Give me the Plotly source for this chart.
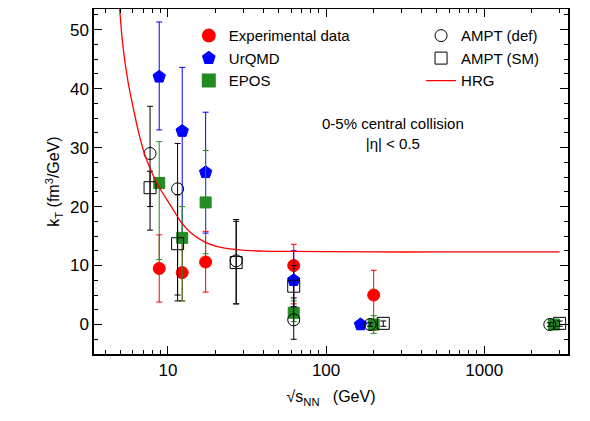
import plotly.graph_objects as go

# experimental data
exp_x = [8.8, 12.3, 17.3, 62.4, 200]
exp_y = [9.5, 8.8, 10.6, 10.0, 5.0]
exp_lo = [3.8, 4.0, 5.5, 3.5, -1.0]
exp_hi = [15.2, 14.0, 15.8, 13.6, 9.2]

urqmd_x = [8.8, 12.3, 17.3, 62.4, 165]
urqmd_y = [42.0, 32.8, 25.8, 7.5, 0.0]
urqmd_lo = [33.0, 14.0, 15.5, 3.0, -0.3]
urqmd_hi = [51.3, 43.6, 36.0, 12.5, 0.3]

epos_x = [8.8, 12.3, 17.3, 62.4, 200, 2760]
epos_y = [24.0, 14.7, 20.7, 2.0, 0.0, 0.0]
epos_lo = [11.0, 4.0, 12.0, 0.5, -1.5, -0.3]
epos_hi = [31.0, 20.0, 29.5, 4.0, 1.5, 0.3]

ampt_def_x = [7.7, 11.5, 27, 62.4, 190, 2600]
ampt_def_y = [29.0, 23.0, 10.8, 0.8, 0.0, 0.0]
ampt_def_lo = [16.0, 4.0, 3.5, -2.5, -0.3, -0.3]
ampt_def_hi = [37.0, 30.7, 17.8, 4.5, 0.3, 0.3]

ampt_sm_x = [7.7, 11.5, 27, 62.4, 230, 3000]
ampt_sm_y = [23.2, 13.7, 10.5, 6.5, 0.2, 0.2]
ampt_sm_lo = [20.0, 5.0, 3.5, 3.0, -0.3, -0.3]
ampt_sm_hi = [26.0, 22.0, 17.5, 10.0, 0.6, 0.6]

hrg_x = [4.9, 5.2, 5.6, 6.0, 6.6, 7.2, 7.7, 8.5, 9.5, 10.5, 12, 14, 17, 20, 27, 40, 60, 100, 200, 500, 1000, 3000]
hrg_y = [55, 47, 41, 37, 32, 28.5, 26.5, 24, 21.8, 20, 17.5, 15.5, 14.0, 13.3, 12.7, 12.45, 12.4, 12.35, 12.3, 12.3, 12.3, 12.3]

minor_x = [m * d for d in (1, 10, 100, 1000) for m in range(2, 10)]


def errs(y, lo, hi):
    return dict(type="data", symmetric=False,
                array=[h - v for v, h in zip(y, hi)],
                arrayminus=[v - l for v, l in zip(y, lo)])


fig = go.Figure()

def add(name, x, y, lo, hi, color, symbol, size, legend):
    e = errs(y, lo, hi)
    e.update(color=color, thickness=1, width=3)
    fig.add_trace(go.Scatter(
        x=x, y=y, mode="markers", name=name, error_y=e, legend=legend,
        marker=dict(color=color, symbol=symbol, size=size, line=dict(color=color, width=1))))

add("Experimental data", exp_x, exp_y, exp_lo, exp_hi, "red", "circle", 12, "legend")
add("UrQMD", urqmd_x, urqmd_y, urqmd_lo, urqmd_hi, "blue", "pentagon", 13, "legend")
add("EPOS", epos_x, epos_y, epos_lo, epos_hi, "#228b22", "square", 11, "legend")
add("AMPT (def)", ampt_def_x, ampt_def_y, ampt_def_lo, ampt_def_hi, "black", "circle-open", 12, "legend2")
add("AMPT (SM)", ampt_sm_x, ampt_sm_y, ampt_sm_lo, ampt_sm_hi, "black", "square-open", 12, "legend2")
fig.add_trace(go.Scatter(x=hrg_x, y=hrg_y, mode="lines", name="HRG", legend="legend2",
                         line=dict(color="red", width=1.3, shape="spline")))

fig.add_annotation(x=0.63, y=0.64, xref="paper", yref="paper", showarrow=False,
                   text="0-5% central collision<br>|η| < 0.5", font=dict(size=15, color="black"))

ax = dict(showline=True, linecolor="black", linewidth=1.5, mirror="ticks", ticks="inside",
          tickcolor="black", showgrid=False, zeroline=False, automargin=False,
          tickfont=dict(size=17, color="black"))
fig.update_layout(
    width=582, height=413, margin=dict(l=86, r=22, t=1, b=67),
    plot_bgcolor="white", paper_bgcolor="white",
    font=dict(family="Liberation Sans, Arial", color="black"),
    xaxis=dict(ax, type="log", range=[0.532, 3.53], tickvals=[10, 100, 1000], ticklen=8,
               minor=dict(ticks="inside", ticklen=4, tickcolor="black", showgrid=False,
                          tickmode="array", tickvals=minor_x),
               title=dict(text="√s<sub>NN</sub>   (GeV)", font=dict(size=16), standoff=12)),
    yaxis=dict(ax, range=[-5, 53.5], dtick=10, ticklen=8,
               minor=dict(ticks="inside", ticklen=4, dtick=2.5, tickcolor="black", showgrid=False),
               title=dict(text="k<sub>T</sub> (fm<sup>3</sup>/GeV)", font=dict(size=16), standoff=6)),
    legend=dict(x=0.2, y=0.97, xanchor="left", yanchor="top", bgcolor="rgba(0,0,0,0)",
                font=dict(size=15), tracegroupgap=0, itemsizing="constant"),
    legend2=dict(x=0.69, y=0.97, xanchor="left", yanchor="top", bgcolor="rgba(0,0,0,0)",
                 font=dict(size=15), tracegroupgap=0),
)
fig.write_html("out.html")
